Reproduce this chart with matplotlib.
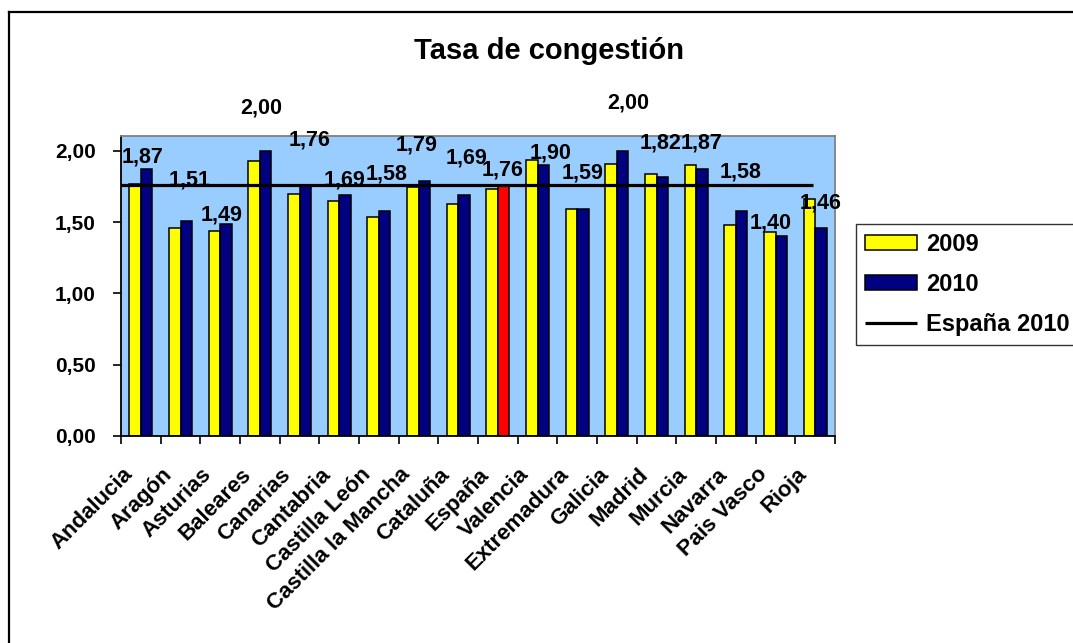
import matplotlib
matplotlib.use("Agg")
import matplotlib.pyplot as plt
import matplotlib.transforms as mtransforms
from matplotlib.lines import Line2D
import numpy as np

plt.rcParams['font.family'] = ['Liberation Sans', 'DejaVu Sans']
plt.rcParams['font.weight'] = 'bold'

regiones = ['Andalucia', 'Aragón', 'Asturias', 'Baleares', 'Canarias', 'Cantabria',
            'Castilla León', 'Castilla la Mancha', 'Cataluña', 'España', 'Valencia',
            'Extremadura', 'Galicia', 'Madrid', 'Murcia', 'Navarra', 'Pais Vasco', 'Rioja']
tasa_2009 = [1.77, 1.46, 1.44, 1.93, 1.70, 1.65, 1.54, 1.75, 1.63, 1.73, 1.94,
             1.59, 1.91, 1.84, 1.90, 1.48, 1.43, 1.66]
tasa_2010 = [1.87, 1.51, 1.49, 2.00, 1.76, 1.69, 1.58, 1.79, 1.69, 1.76, 1.90,
             1.59, 2.00, 1.82, 1.87, 1.58, 1.40, 1.46]
espana_2010 = 1.76
y_ticks = [0.0, 0.5, 1.0, 1.5, 2.0]
y_tick_labels = ['0,00', '0,50', '1,00', '1,50', '2,00']

# where excel left the data labels (offset in categories, height in axis units)
label_dx = [0.05, 0.24, 0.04, 0.03, 0.26, 0.14, 0.2, -0.05, 0.21, 0.13, 0.33,
            0.14, 0.29, 0.1, 0.13, 0.12, -0.13, 0.13]
label_y = [1.958, 1.796, 1.551, 2.30, 2.077, 1.796, 1.839, 2.042, 1.951, 1.867,
           1.986, 1.846, 2.337, 2.056, 2.056, 1.853, 1.495, 1.635]

W, H = 1073, 643
fig = plt.figure(figsize=(W / 100, H / 100), dpi=100)
ax = fig.add_axes([121 / W, 1 - 436 / H, 714 / W, 300 / H])
ax.set_facecolor('#99CCFF')

x = np.arange(len(regiones))
bw = 0.29
b09 = ax.bar(x - bw / 2, tasa_2009, bw, color='#FFFF00', edgecolor='black', linewidth=1.1,
             label='2009', zorder=2)
b10 = ax.bar(x + bw / 2, tasa_2010, bw, color='#000080', edgecolor='black', linewidth=1.1,
             label='2010', zorder=2)
b10[regiones.index('España')].set_facecolor('#FF0000')

ln, = ax.plot([-0.5, 16.94], [espana_2010, espana_2010], color='black', lw=2.3,
              label='España 2010', zorder=3, solid_capstyle='butt')

for i, v in enumerate(tasa_2010):
    ax.text(i + label_dx[i], label_y[i], f'{v:.2f}'.replace('.', ','), ha='center',
            va='center', fontsize=15.5, fontweight='bold', clip_on=False, zorder=4)

ax.set_xlim(-0.5, len(regiones) - 0.5)
ax.set_ylim(0, 2.105)
ax.set_yticks(y_ticks, y_tick_labels)
ax.tick_params(axis='y', direction='out', length=6, width=1.2, pad=12, labelsize=15)
ax.set_xticks(list(x - 0.5) + [len(regiones) - 0.5])
ax.set_xticklabels([''] * (len(regiones) + 1))
ax.tick_params(axis='x', direction='out', length=6, width=1.2)

offset = mtransforms.ScaledTranslation(-0.19, -0.28, fig.dpi_scale_trans)
for i, name in enumerate(regiones):
    ax.text(i, 0, name, transform=mtransforms.blended_transform_factory(ax.transData, ax.transAxes) + offset,
            rotation=45, rotation_mode='anchor', ha='right', va='top', fontsize=16,
            fontweight='bold')

for side in ['left', 'bottom']:
    ax.spines[side].set_color('black')
    ax.spines[side].set_linewidth(1.3)
for side in ['top', 'right']:
    ax.spines[side].set_color('#808080')
    ax.spines[side].set_linewidth(1.3)

fig.text(549 / W, 1 - 59 / H, 'Tasa de congestión', ha='center', va='baseline',
         fontsize=21, fontweight='bold')

leg = fig.legend(handles=[b09, b10, ln], labels=['2009', '2010', 'España 2010'],
                 loc='upper left', bbox_to_anchor=(856 / W, 1 - 224 / H), fontsize=17,
                 frameon=True, fancybox=False, handlelength=2.2, handleheight=0.6,
                 handletextpad=0.4, borderpad=0.38, labelspacing=0.72, borderaxespad=0)
leg.get_frame().set_edgecolor('black')
leg.get_frame().set_linewidth(1.0)
for t in leg.get_texts():
    t.set_fontweight('bold')

# chart border (left and top edges only show)
fig.add_artist(Line2D([9 / W, 9 / W], [0, 1 - 12 / H], color='black', lw=1.6))
fig.add_artist(Line2D([9 / W, 1], [1 - 12 / H, 1 - 12 / H], color='black', lw=1.6))

fig.savefig('out.png', dpi=100)
